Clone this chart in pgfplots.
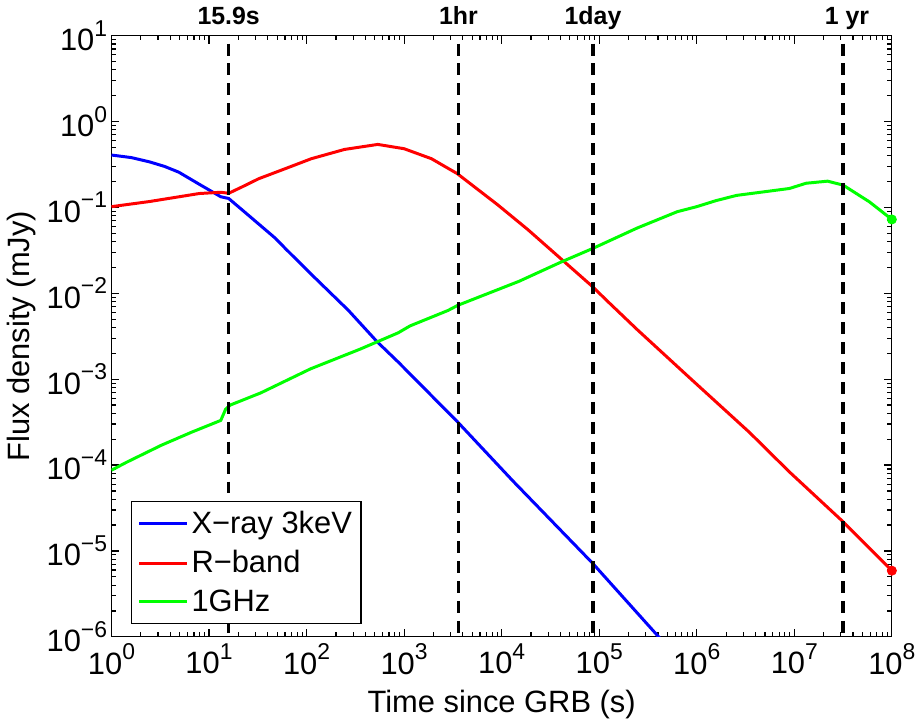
\documentclass[border=0pt]{standalone}
\usepackage{fontspec}
\setmainfont{Liberation Sans}
\usepackage{pgfplots}
\pgfplotsset{compat=1.18}
\newcommand{\tp}[1]{10\raisebox{7.2pt}{\fontsize{11.5}{12}\selectfont #1}}
\definecolor{mblue}{RGB}{0,0,255}
\definecolor{mred}{RGB}{255,0,0}
\definecolor{mgreen}{RGB}{0,255,0}
\begin{document}
\begin{tikzpicture}
\begin{axis}[
  scale only axis, width=392pt, height=302pt,
  xmode=log, ymode=log, log basis x=10, log basis y=10,
  xmin=1, xmax=1e8, ymin=1e-6, ymax=10,
  xtick={1,10,100,1000,10000,100000,1000000,10000000,100000000},
  xticklabels={\tp{0},\tp{1},\tp{2},\tp{3},\tp{4},\tp{5},\tp{6},\tp{7},\tp{8}},
  minor xtick={2e0,3e0,4e0,5e0,6e0,7e0,8e0,9e0,
    2e1,3e1,4e1,5e1,6e1,7e1,8e1,9e1,
    2e2,3e2,4e2,5e2,6e2,7e2,8e2,9e2,
    2e3,3e3,4e3,5e3,6e3,7e3,8e3,9e3,
    2e4,3e4,4e4,5e4,6e4,7e4,8e4,9e4,
    2e5,3e5,4e5,5e5,6e5,7e5,8e5,9e5,
    2e6,3e6,4e6,5e6,6e6,7e6,8e6,9e6,
    2e7,3e7,4e7,5e7,6e7,7e7,8e7,9e7},
  ytick={1e-6,1e-5,1e-4,1e-3,1e-2,1e-1,1,10},
  yticklabels={\tp{−6},\tp{−5},\tp{−4},\tp{−3},\tp{−2},\tp{−1},\tp{0},\tp{1}},
  minor ytick={2e-6,3e-6,4e-6,5e-6,6e-6,7e-6,8e-6,9e-6,
    2e-5,3e-5,4e-5,5e-5,6e-5,7e-5,8e-5,9e-5,
    2e-4,3e-4,4e-4,5e-4,6e-4,7e-4,8e-4,9e-4,
    2e-3,3e-3,4e-3,5e-3,6e-3,7e-3,8e-3,9e-3,
    2e-2,3e-2,4e-2,5e-2,6e-2,7e-2,8e-2,9e-2,
    2e-1,3e-1,4e-1,5e-1,6e-1,7e-1,8e-1,9e-1,
    2,3,4,5,6,7,8,9},
  tick align=inside,
  major tick length=4pt, minor tick length=2.2pt,
  every tick/.style={black, line width=0.6pt},
  axis line style={line width=0.6pt},
  font=\fontsize{15.5}{18}\selectfont,
  tick label style={font=\fontsize{15.5}{18}\selectfont},
  yticklabel style={inner xsep=2pt},
  xlabel={Time since GRB (s)},
  ylabel={Flux density (mJy)},
  xlabel style={at={(axis description cs:0.5,-0.113)}, anchor=center},
  ylabel style={at={(axis description cs:-0.115,0.5)}, anchor=center},
  clip mode=individual,
  legend style={at={(0.025,0.0215)}, anchor=south west, draw=black, line width=0.6pt,
    fill=white, inner xsep=3pt, inner ysep=3pt, row sep=3.8pt,
    font=\fontsize{15.5}{18}\selectfont, nodes={inner sep=1.6pt}},
  legend cell align=left,
  legend image code/.code={\draw[#1, line width=1.5pt] (0pt,0pt) -- (24pt,0pt);},
]
\addplot[mblue, line width=1.5pt] coordinates {
(1,0.407) (1.6,0.380) (2.45,0.339) (3.5,0.300) (4.9,0.257) (7.94,0.186) (13.2,0.133) (15.9,0.127)
(21.9,0.0933) (47.9,0.0437) (60.3,0.0334) (112,0.0166) (269,0.00631)
(525,0.00275) (871,0.00158) (3550,0.000316) (12900,6.61e-5) (85100,7.24e-6)
(407000,1e-6) (450000,8.8e-7)};
\addlegendentry{X−ray 3keV}
\addplot[mred, line width=1.5pt] coordinates {
(1,0.102) (2.45,0.117) (7.94,0.145) (13.2,0.150) (15.9,0.146) (22,0.174)
(32.4,0.216) (60.3,0.282) (112,0.369) (245,0.473) (537,0.541) (1000,0.482)
(1905,0.369) (3510,0.247) (9120,0.107) (18600,0.055) (41700,0.0245)
(85100,0.012) (120000,8.2e-3) (245000,3.78e-3) (851000,1.03e-3)
(3.47e6,2.40e-4) (8.91e6,8.32e-5) (3.16e7,2.19e-5) (1e8,5.89e-6)};
\addlegendentry{R−band}
\addplot[mgreen, line width=1.5pt] coordinates {
(1,8.71e-5) (1.41,1.07e-4) (3.24,1.70e-4) (6.55,2.40e-4) (13.2,3.31e-4)
(14.8,4.47e-4) (16.6,5.01e-4) (33.9,6.92e-4) (110,1.32e-3) (355,2.24e-3)
(871,3.47e-3) (1150,4.17e-3) (2820,6.31e-3) (3550,7.24e-3) (15100,0.0138)
(41700,0.0234) (85100,0.0331) (245000,0.0575) (631000,0.0891) (1e6,0.102)
(1.58e6,0.120) (2.57e6,0.138) (8.91e6,0.166) (1.32e7,0.191) (2.19e7,0.202)
(3.16e7,0.182) (5.89e7,0.116) (1e8,0.0724)};
\addlegendentry{1GHz}
\addplot[forget plot, only marks, mark=*, mark size=2.3pt, color=mred] coordinates {(1e8,5.89e-6)};
\addplot[forget plot, only marks, mark=*, mark size=2.3pt, color=mgreen] coordinates {(1e8,0.0724)};
\addplot[forget plot, black, line width=1.6pt, dash pattern=on 6pt off 4pt, dash phase=6pt] coordinates {(15.9,10) (15.9,1e-6)};
\addplot[forget plot, black, line width=1.6pt, dash pattern=on 6pt off 4pt, dash phase=6pt] coordinates {(3600,10) (3600,1e-6)};
\addplot[forget plot, black, line width=1.6pt, dash pattern=on 6pt off 4pt, dash phase=6pt] coordinates {(86400,10) (86400,1e-6)};
\addplot[forget plot, black, line width=1.6pt, dash pattern=on 6pt off 4pt, dash phase=6pt] coordinates {(3.156e7,10) (3.156e7,1e-6)};
\node[anchor=base, yshift=5.5pt, font=\bfseries\fontsize{12.5}{14}\selectfont] at (axis cs:15.9,10) {15.9s};
\node[anchor=base, yshift=5.5pt, font=\bfseries\fontsize{12.5}{14}\selectfont] at (axis cs:3600,10) {1hr};
\node[anchor=base, yshift=5.5pt, font=\bfseries\fontsize{12.5}{14}\selectfont] at (axis cs:86400,10) {1day};
\node[anchor=base, yshift=5.5pt, xshift=2pt, font=\bfseries\fontsize{12.5}{14}\selectfont] at (axis cs:3.156e7,10) {1 yr};
\end{axis}
\path (-56pt,-43.5pt) rectangle (405pt,318.5pt);
\end{tikzpicture}
\end{document}
